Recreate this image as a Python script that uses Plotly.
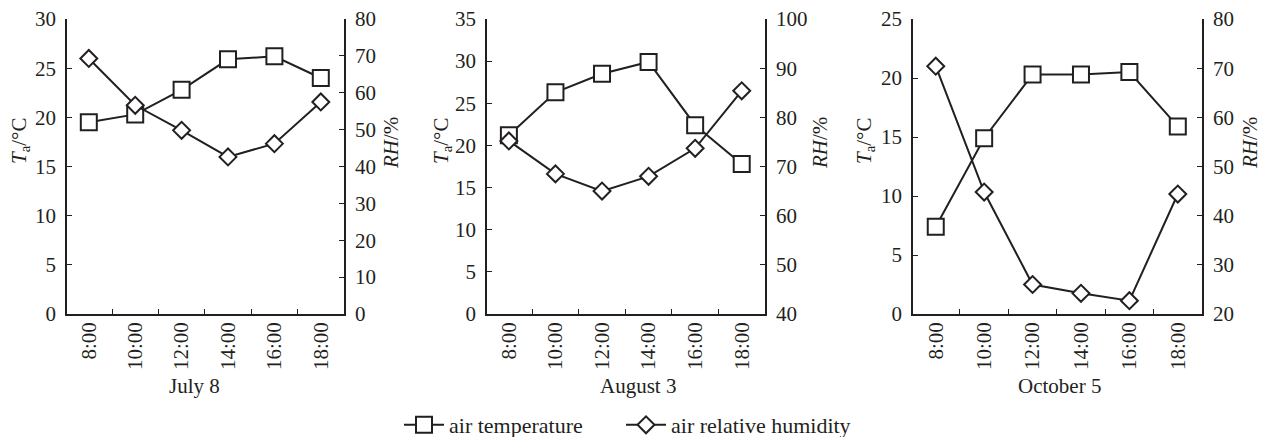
import plotly.graph_objects as go

W, H = 1264, 437

times = ["8:00", "10:00", "12:00", "14:00", "16:00", "18:00"]
panel_titles = ["July 8", "August 3", "October 5"]

temp_jul8 = [19.5, 20.3, 22.8, 25.9, 26.2, 24.0]
rh_jul8 = [69.3, 56.6, 49.8, 42.6, 46.2, 57.5]
temp_aug3 = [21.2, 26.3, 28.5, 29.9, 22.4, 17.8]
rh_aug3 = [75.2, 68.5, 65.0, 68.0, 73.7, 85.4]
temp_oct5 = [7.4, 14.9, 20.3, 20.3, 20.5, 15.9]
rh_oct5 = [70.4, 44.8, 26.0, 24.2, 22.7, 44.4]

temp_ranges = [[0, 30], [0, 35], [0, 25]]
temp_dticks = [5, 5, 5]
rh_ranges = [[0, 80], [40, 100], [20, 80]]
rh_dticks = [10, 10, 10]

temps = [temp_jul8, temp_aug3, temp_oct5]
rhs = [rh_jul8, rh_aug3, rh_oct5]

FONT = "Liberation Serif, Times New Roman, serif"
INK = "#231f20"
FS = 21

# panel pixel geometry (left, right)
px_domains = [(67, 344), (487, 765), (913, 1202)]
top_px, bot_px = 19, 314
ydom = [1 - bot_px / H, 1 - top_px / H]

fig = go.Figure()
xs = list(range(len(times)))

for i in range(3):
    xa = "x" if i == 0 else f"x{i+1}"
    yl = "y" if i == 0 else f"y{2*i+1}"
    yr = f"y{2*i+2}"
    fig.add_trace(go.Scatter(
        x=xs, y=temps[i], xaxis=xa, yaxis=yl, mode="lines+markers",
        name="air temperature", showlegend=(i == 0), legend="legend",
        line=dict(color=INK, width=2),
        marker=dict(symbol="square", size=16, color="white",
                    line=dict(color=INK, width=2)),
        cliponaxis=False))
    fig.add_trace(go.Scatter(
        x=xs, y=rhs[i], xaxis=xa, yaxis=yr, mode="lines+markers",
        name="air relative humidity", showlegend=(i == 0), legend="legend2",
        line=dict(color=INK, width=2),
        marker=dict(symbol="diamond", size=13, color="white",
                    line=dict(color=INK, width=2)),
        cliponaxis=False))

legend_common = dict(orientation="h", xanchor="left", y=1 - 425 / H,
                     yanchor="middle", font=dict(family=FONT, size=22, color=INK),
                     bgcolor="rgba(0,0,0,0)", itemwidth=40)

layout = dict(
    width=W, height=H, margin=dict(l=0, r=0, t=0, b=0, autoexpand=False),
    paper_bgcolor="white", plot_bgcolor="white",
    font=dict(family=FONT, size=FS, color=INK),
    showlegend=True,
    legend=dict(x=399 / W, **legend_common),
    legend2=dict(x=621 / W, **legend_common),
)

annotations = []
for i in range(3):
    xk = "xaxis" if i == 0 else f"xaxis{i+1}"
    ylk = "yaxis" if i == 0 else f"yaxis{2*i+1}"
    yrk = f"yaxis{2*i+2}"
    xa_id = "x" if i == 0 else f"x{i+1}"
    yl_id = "y" if i == 0 else f"y{2*i+1}"
    l, r = px_domains[i]
    layout[xk] = dict(
        domain=[l / W, r / W], anchor=yl_id, range=[-0.47, 5.5],
        tickmode="array", tickvals=xs, ticktext=times, tickangle=-90,
        ticks="", ticklabelstandoff=-2, showgrid=False, zeroline=False,
        showline=True, linecolor=INK, linewidth=1.5, automargin=False,
        tickfont=dict(family=FONT, size=FS, color=INK),
        minor=dict(tickvals=[0.5, 1.5, 2.5, 3.5, 4.5], ticks="inside",
                   ticklen=5, tickwidth=1.3, tickcolor=INK, showgrid=False),
    )
    layout[ylk] = dict(
        domain=ydom, anchor=xa_id, range=temp_ranges[i], dtick=temp_dticks[i],
        tick0=0, ticks="inside", ticklen=5, tickwidth=1.3, tickcolor=INK,
        ticklabelstandoff=5, showgrid=False, zeroline=False, showline=True,
        linecolor=INK, linewidth=1.5, side="left", automargin=False,
        tickfont=dict(family=FONT, size=FS, color=INK),
    )
    layout[yrk] = dict(
        domain=ydom, anchor=xa_id, overlaying=yl_id, side="right",
        range=rh_ranges[i], dtick=rh_dticks[i], tick0=0,
        ticks="inside", ticklen=5, tickwidth=1.3, tickcolor=INK,
        ticklabelstandoff=5, showgrid=False, zeroline=False, showline=True,
        linecolor=INK, linewidth=1.5, automargin=False,
        tickfont=dict(family=FONT, size=FS, color=INK),
    )

left_title_x = [20, 442, 865]
right_title_x = [391, 820, 1250]
xtitle_x = [194, 638, 1059]
for i in range(3):
    annotations.append(dict(
        xref="paper", yref="paper", x=left_title_x[i] / W, y=1 - 141 / H,
        text="<i>T</i><sub>a</sub>/°C", textangle=-90, showarrow=False,
        xanchor="center", yanchor="middle",
        font=dict(family=FONT, size=FS, color=INK)))
    annotations.append(dict(
        xref="paper", yref="paper", x=right_title_x[i] / W, y=1 - 143 / H,
        text="<i>RH</i>/%", textangle=-90, showarrow=False,
        xanchor="center", yanchor="middle",
        font=dict(family=FONT, size=FS, color=INK)))
    annotations.append(dict(
        xref="paper", yref="paper", x=xtitle_x[i] / W, y=1 - 386 / H,
        text=panel_titles[i], showarrow=False,
        xanchor="center", yanchor="middle",
        font=dict(family=FONT, size=FS, color=INK)))

layout["annotations"] = annotations
fig.update_layout(**layout)
fig.write_html("out.html")
